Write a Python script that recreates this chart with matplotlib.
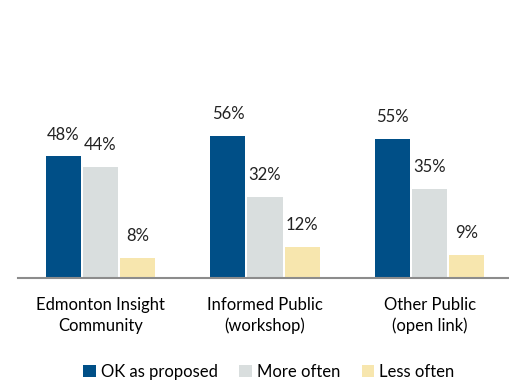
import matplotlib.pyplot as plt
import numpy as np

groups = ["Edmonton Insight\nCommunity", "Informed Public\n(workshop)", "Other Public\n(open link)"]
series = ["OK as proposed", "More often", "Less often"]
ok_as_proposed = [48, 56, 55]
more_often = [44, 32, 35]
less_often = [8, 12, 9]
colors = ["#004F87", "#D9DEDE", "#F7E6AE"]

plt.rcParams["font.family"] = ["Lato", "DejaVu Sans"]

fig = plt.figure(figsize=(5.1, 3.81), dpi=100)
# axes placed in pixels: baseline at y=277.7, left edge x=18
ax = fig.add_axes([18 / 510, (381 - 277.7) / 381, 494 / 510, 202 / 381])

x = np.arange(len(groups))
step = 0.225
width = 0.213
values = [ok_as_proposed, more_often, less_often]
for i, (name, vals, c) in enumerate(zip(series, values, colors)):
    pos = x + (i - 1) * step
    ax.bar(pos, vals, width=width, color=c, label=name)
    for p, v in zip(pos, vals):
        ax.text(p, v + 8.7, f"{v}%", ha="center", va="center", fontsize=12, color="#222222")

ax.set_xlim(-0.5, 2.5)
ax.set_ylim(0, 80)
ax.set_yticks([])
ax.set_xticks(x)
ax.set_xticklabels(groups, fontsize=12, linespacing=1.35)
ax.tick_params(axis="x", length=0, pad=14)
for s in ["top", "right", "left"]:
    ax.spines[s].set_visible(False)
ax.spines["bottom"].set_color("#8C8C8C")
ax.spines["bottom"].set_linewidth(1.5)

fig.legend(loc="center", bbox_to_anchor=(0.527, 1 - 371.7 / 381), ncol=3, frameon=False,
           fontsize=12, handlelength=0.75, handleheight=0.75, handletextpad=0.3,
           columnspacing=1.3)

fig.savefig("out.png", dpi=100)
